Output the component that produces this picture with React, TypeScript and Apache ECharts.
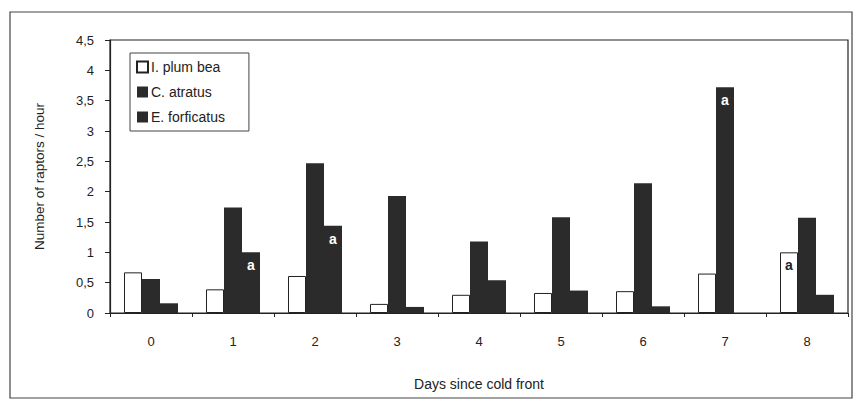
import React, { useEffect, useRef } from "react";
import * as echarts from "echarts";

const days = ["0", "1", "2", "3", "4", "5", "6", "7", "8"];
const plumbea = [0.67, 0.39, 0.61, 0.15, 0.3, 0.33, 0.36, 0.65, 1.0];
const atratus = [0.56, 1.74, 2.47, 1.93, 1.18, 1.58, 2.14, 3.72, 1.57];
const forficatus = [0.16, 1.0, 1.44, 0.1, 0.54, 0.37, 0.11, 0, 0.3];
// days carrying the significance letter "a", per series
const marksPlumbea = [8];
const marksAtratus = [7];
const marksForficatus = [1, 2];

const FONT = "Liberation Sans";
const DARK = "#2b2b2b";

function withMarks(values: number[], marks: number[], textColor: string) {
  return values.map((v, i) =>
    marks.includes(i)
      ? {
          value: v,
          label: {
            show: true,
            position: "insideTop",
            distance: 6,
            formatter: "a",
            color: textColor,
            fontFamily: FONT,
            fontWeight: "bold",
            fontSize: 14,
          },
        }
      : { value: v }
  );
}

export default function App() {
  const ref = useRef<HTMLDivElement>(null);
  useEffect(() => {
    const chart = echarts.init(ref.current!, undefined, { renderer: "svg" });
    chart.setOption({
      animation: false,
      backgroundColor: "#ffffff",
      textStyle: { fontFamily: FONT },
      graphic: [
        {
          type: "rect",
          shape: { x: 10, y: 12, width: 842, height: 386 },
          style: { fill: "none", stroke: "#444", lineWidth: 1.2 },
          silent: true,
        },
        {
          type: "rect",
          shape: { x: 110, y: 40, width: 738, height: 273 },
          style: { fill: "none", stroke: "#222", lineWidth: 1.2 },
          silent: true,
        },
      ],
      legend: {
        orient: "vertical",
        left: 130,
        top: 53,
        icon: "rect",
        itemWidth: 11,
        itemHeight: 11,
        itemGap: 11,
        padding: [7, 24, 7, 6],
        borderColor: "#444",
        borderWidth: 1,
        backgroundColor: "#fff",
        textStyle: { fontFamily: FONT, fontSize: 14, color: "#222", padding: [0, 0, 0, -2] },
        data: ["I. plum bea", "C. atratus", "E. forficatus"],
      },
      grid: { left: 110, right: 6, top: 40, bottom: 88 },
      xAxis: {
        type: "category",
        data: days,
        name: "Days since cold front",
        nameLocation: "middle",
        nameGap: 64,
        nameTextStyle: { fontFamily: FONT, fontSize: 14, color: "#222" },
        axisLine: { lineStyle: { color: "#222", width: 1.2 } },
        axisTick: { show: true, length: 4, lineStyle: { color: "#222" } },
        axisLabel: { fontFamily: FONT, fontSize: 13, color: "#222", margin: 22 },
      },
      yAxis: {
        type: "value",
        min: 0,
        max: 4.5,
        interval: 0.5,
        name: "Number of raptors / hour",
        nameLocation: "middle",
        nameGap: 64,
        nameTextStyle: { fontFamily: FONT, fontSize: 13.5, color: "#222" },
        splitLine: { show: false },
        axisLine: { show: true, lineStyle: { color: "#222", width: 1.2 } },
        axisTick: { show: true, length: 5, lineStyle: { color: "#222" } },
        axisLabel: {
          fontFamily: FONT,
          fontSize: 13,
          color: "#222",
          margin: 16,
          formatter: (v: number) => String(v).replace(".", ","),
        },
      },
      series: [
        {
          name: "I. plum bea",
          type: "bar",
          barWidth: 18,
          barGap: "0%",
          itemStyle: { color: "#ffffff", borderColor: "#222", borderWidth: 1 },
          data: withMarks(plumbea, marksPlumbea, "#222"),
        },
        {
          name: "C. atratus",
          type: "bar",
          barWidth: 18,
          barGap: "0%",
          itemStyle: { color: DARK },
          data: withMarks(atratus, marksAtratus, "#ffffff"),
        },
        {
          name: "E. forficatus",
          type: "bar",
          barWidth: 18,
          barGap: "0%",
          itemStyle: { color: DARK },
          data: withMarks(forficatus, marksForficatus, "#ffffff"),
        },
      ],
    });
    return () => chart.dispose();
  }, []);
  return (
    <div
      ref={ref}
      style={{ position: "fixed", left: 0, top: 0, width: 854, height: 401 }}
    />
  );
}
